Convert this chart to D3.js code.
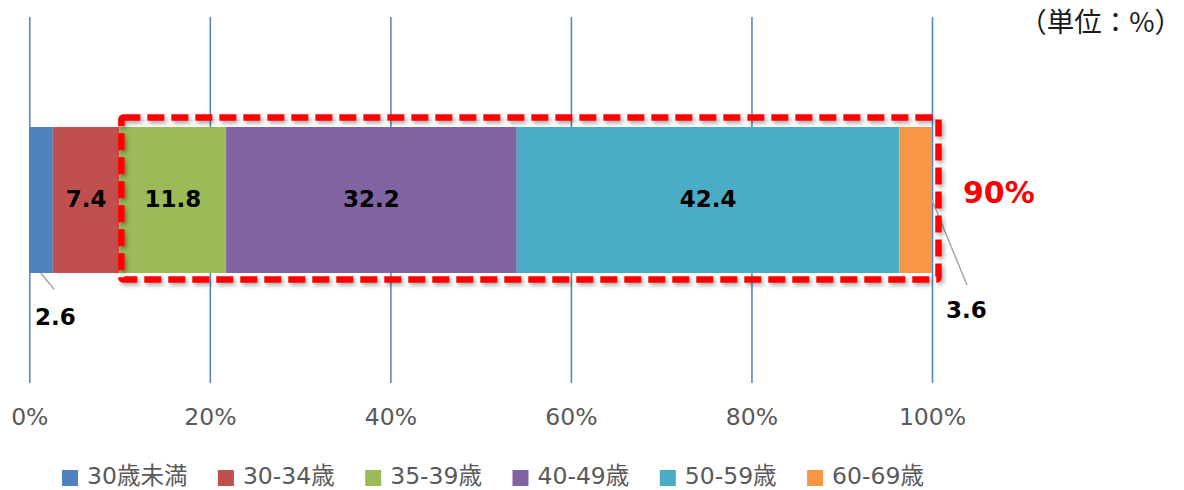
<!DOCTYPE html>
<html><head><meta charset="utf-8">
<script src="https://cdn.jsdelivr.net/npm/d3@7/dist/d3.min.js"></script>
<style>
html,body{margin:0;padding:0;background:#fff;}
svg{display:block;}
</style></head>
<body>
<svg id="chart" width="1184" height="490"></svg>
<script>
const categories = ["30歳未満", "30-34歳", "35-39歳", "40-49歳", "50-59歳", "60-69歳"];
const values = [2.6, 7.4, 11.8, 32.2, 42.4, 3.6];
const tickValues = [0, 20, 40, 60, 80, 100];
const colors = ["#4f81bd", "#c0504d", "#9bbb59", "#8064a2", "#4bacc6", "#f79646"];
const highlightFrom = 2; // 35-39歳 onwards
const highlightLabel = "90%";
const unitLabel = "（単位：%）";

const svg = d3.select("#chart");
const x = d3.scaleLinear().domain([0, 100]).range([29.3, 932]);
const barTop = 127, barBottom = 273;

const latin = "'DejaVu Sans', 'Noto Sans CJK JP', sans-serif";

// gridlines + tick labels via axis
const axis = d3.axisBottom(x).tickValues(tickValues).tickFormat(d => d + "%").tickSize(-(383 - 17));
const gAxis = svg.append("g").attr("transform", "translate(0,383)").call(axis);
gAxis.select(".domain").remove();
gAxis.selectAll(".tick line").attr("stroke", "#4f81bd").attr("stroke-width", 1.5);
gAxis.selectAll(".tick text")
  .attr("y", 42).attr("dy", 0)
  .attr("fill", "#595959")
  .style("font-family", latin).style("font-size", "23.5px");

// stacked segments
let acc = 0;
const segs = values.map((v, i) => { const s = {i, v, x0: acc, x1: acc + v}; acc += v; return s; });

svg.append("g").selectAll("rect").data(segs).join("rect")
  .attr("x", d => x(d.x0)).attr("width", d => x(d.x1) - x(d.x0))
  .attr("y", barTop).attr("height", barBottom - barTop)
  .attr("fill", d => colors[d.i]);

// inside labels
svg.append("g").selectAll("text").data(segs.filter(d => d.i > 0 && d.i < segs.length - 1)).join("text")
  .attr("x", d => x((d.x0 + d.x1) / 2)).attr("y", 207)
  .attr("text-anchor", "middle")
  .style("font-family", latin).style("font-weight", "bold").style("font-size", "23px")
  .attr("fill", "#000").text(d => d.v.toFixed(1));

// outside labels with leader lines
const first = segs[0], last = segs[segs.length - 1];
svg.append("line").attr("x1", x(first.x1) - 12).attr("y1", barBottom).attr("x2", x(first.x1) + 1.5).attr("y2", 289.5)
  .attr("stroke", "#a6a6a6").attr("stroke-width", 1.5);
svg.append("text").attr("x", 35).attr("y", 325)
  .style("font-family", latin).style("font-weight", "bold").style("font-size", "23px").text(first.v.toFixed(1));
svg.append("line").attr("x1", x(last.x1)).attr("y1", 200).attr("x2", x(last.x1) + 35).attr("y2", 285)
  .attr("stroke", "#a6a6a6").attr("stroke-width", 1.5);
svg.append("text").attr("x", 946).attr("y", 318)
  .style("font-family", latin).style("font-weight", "bold").style("font-size", "23px").text(last.v.toFixed(1));

// highlight dashed box with shadow
const defs = svg.append("defs");
const f = defs.append("filter").attr("id", "sh").attr("x", "-5%").attr("y", "-20%").attr("width", "110%").attr("height", "140%");
f.append("feDropShadow").attr("dx", 2).attr("dy", 2.5).attr("stdDeviation", 2).attr("flood-color", "#000").attr("flood-opacity", 0.35);
const hx0 = x(segs[highlightFrom].x0) + 1.8;
const hx1 = x(100) + 6.5;
svg.append("rect")
  .attr("x", hx0).attr("y", 117.5).attr("width", hx1 - hx0).attr("height", 279.5 - 117.5)
  .attr("rx", 2)
  .attr("fill", "none").attr("stroke", "#ff0000").attr("stroke-width", 6.5)
  .attr("stroke-dasharray", "17,7")
  .attr("filter", "url(#sh)");

svg.append("text").attr("x", 963).attr("y", 203)
  .style("font-family", latin).style("font-weight", "bold").style("font-size", "30px")
  .attr("fill", "#ff0000").text(highlightLabel);

// unit label
svg.append("text").attr("x", 1182).attr("y", 32).attr("text-anchor", "end")
  .style("font-family", "'Noto Sans CJK JP', sans-serif").style("font-size", "27.5px")
  .attr("fill", "#1a1a1a").text(unitLabel);

// legend
const lg = svg.append("g");
let lx = 62;
categories.forEach((c, i) => {
  lg.append("rect").attr("x", lx).attr("y", 470).attr("width", 16).attr("height", 16).attr("fill", colors[i]);
  const t = lg.append("text").attr("x", lx + 25).attr("y", 483.5)
    .style("font-family", latin).style("font-size", "23.5px").attr("fill", "#595959").text(c);
  lx += 25 + t.node().getComputedTextLength() + 30.5;
});
</script>
</body></html>
